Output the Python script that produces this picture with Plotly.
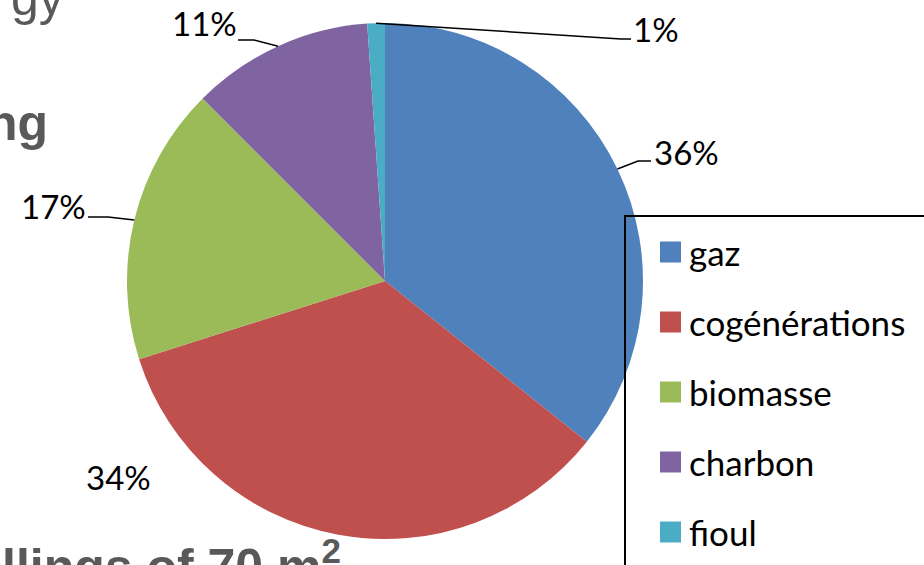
import math
import plotly.graph_objects as go

# ---- data ----
categories = ["gaz", "cogénérations", "biomasse", "charbon", "fioul"]
shares = [35.7, 34.4, 17.4, 11.4, 1.1]
colors = ["#4F81BD", "#C0504D", "#9BBB59", "#8064A2", "#4BACC6"]

# ---- layout helpers (pixel -> paper) ----
W, H = 924, 565
def px(x): return x / W
def py(y): return 1 - y / H

CX, CY, R = 385, 281, 258

fig = go.Figure(go.Pie(
    labels=categories, values=shares, sort=False, direction="clockwise", rotation=0,
    marker=dict(colors=colors, line=dict(width=0)),
    textinfo="none", hoverinfo="label+percent", showlegend=False,
    domain=dict(x=[px(CX - R), px(CX + R)], y=[py(CY + R), py(CY - R)]),
))

LABEL_FONT = dict(family="Lato, Open Sans, sans-serif", size=33, color="#000000")
LEGEND_FONT = dict(family="Lato, Open Sans, sans-serif", size=35, color="#000000")

# label placement (layout only): text centre, elbow point, line end
label_layout = [
    dict(c=(686, 152), elbow=(638, 161), end=(651, 161)),
    dict(c=(118, 477), elbow=None, end=None),
    dict(c=(53, 206), elbow=(108, 217), end=(88, 217)),
    dict(c=(204, 23), elbow=(254, 40), end=(238, 40)),
    dict(c=(656, 29), elbow=(621, 39), end=(631, 39)),
]

total = sum(shares)
cum = 0.0
annotations = []
shapes = []
for v, lay in zip(shares, label_layout):
    mid = (cum + v / 2) / total * 2 * math.pi
    cum += v
    ex, ey = CX + R * math.sin(mid), CY - R * math.cos(mid)
    annotations.append(dict(
        x=px(lay["c"][0]), y=py(lay["c"][1]), xref="paper", yref="paper",
        text=f"{round(v / total * 100)}%", showarrow=False,
        xanchor="center", yanchor="middle", font=LABEL_FONT))
    if lay["elbow"] is not None:
        (bx, by), (tx, ty) = lay["elbow"], lay["end"]
        shapes.append(dict(
            type="path", xref="paper", yref="paper",
            path=f"M {px(ex)} {py(ey)} L {px(bx)} {py(by)} L {px(tx)} {py(ty)}",
            line=dict(color="#000000", width=1.5)))

# ---- manual legend ----
legend_rows = [252, 322, 392, 462, 532]
shapes.append(dict(type="rect", xref="paper", yref="paper",
                   x0=px(625), x1=px(940), y0=py(216), y1=py(600),
                   line=dict(color="#000000", width=2), fillcolor="rgba(0,0,0,0)"))
for cat, col, yc in zip(categories, colors, legend_rows):
    shapes.append(dict(type="rect", xref="paper", yref="paper",
                       x0=px(660), x1=px(681), y0=py(yc + 10.5), y1=py(yc - 10.5),
                       line=dict(width=0), fillcolor=col))
    annotations.append(dict(
        x=px(687), y=py(yc), xref="paper", yref="paper", text=cat, showarrow=False,
        xanchor="left", yanchor="middle", font=LEGEND_FONT))

# ---- background slide text (cropped) ----
BG = "#595959"
annotations += [
    dict(x=px(66), y=py(-2), xref="paper", yref="paper", text="gy", showarrow=False,
         xanchor="right", yanchor="middle",
         font=dict(family="Liberation Sans, Arial, sans-serif", size=50, color=BG)),
    dict(x=px(50), y=py(123), xref="paper", yref="paper", text="<b>ng</b>", showarrow=False,
         xanchor="right", yanchor="middle",
         font=dict(family="Liberation Sans, Arial, sans-serif", size=50, color=BG)),
    dict(x=px(0), y=py(563), xref="paper", yref="paper",
         text="<b>llings of 70 m<sup>2</sup></b>", showarrow=False,
         xanchor="left", yanchor="middle",
         font=dict(family="Liberation Sans, Arial, sans-serif", size=50, color=BG)),
]

fig.update_layout(
    width=W, height=H, margin=dict(l=0, r=0, t=0, b=0),
    paper_bgcolor="#FFFFFF", plot_bgcolor="#FFFFFF",
    annotations=annotations, shapes=shapes,
)

fig.write_html("out.html", config={"displayModeBar": False},
               post_script="document.body.style.margin='0';document.body.style.padding='0';")
